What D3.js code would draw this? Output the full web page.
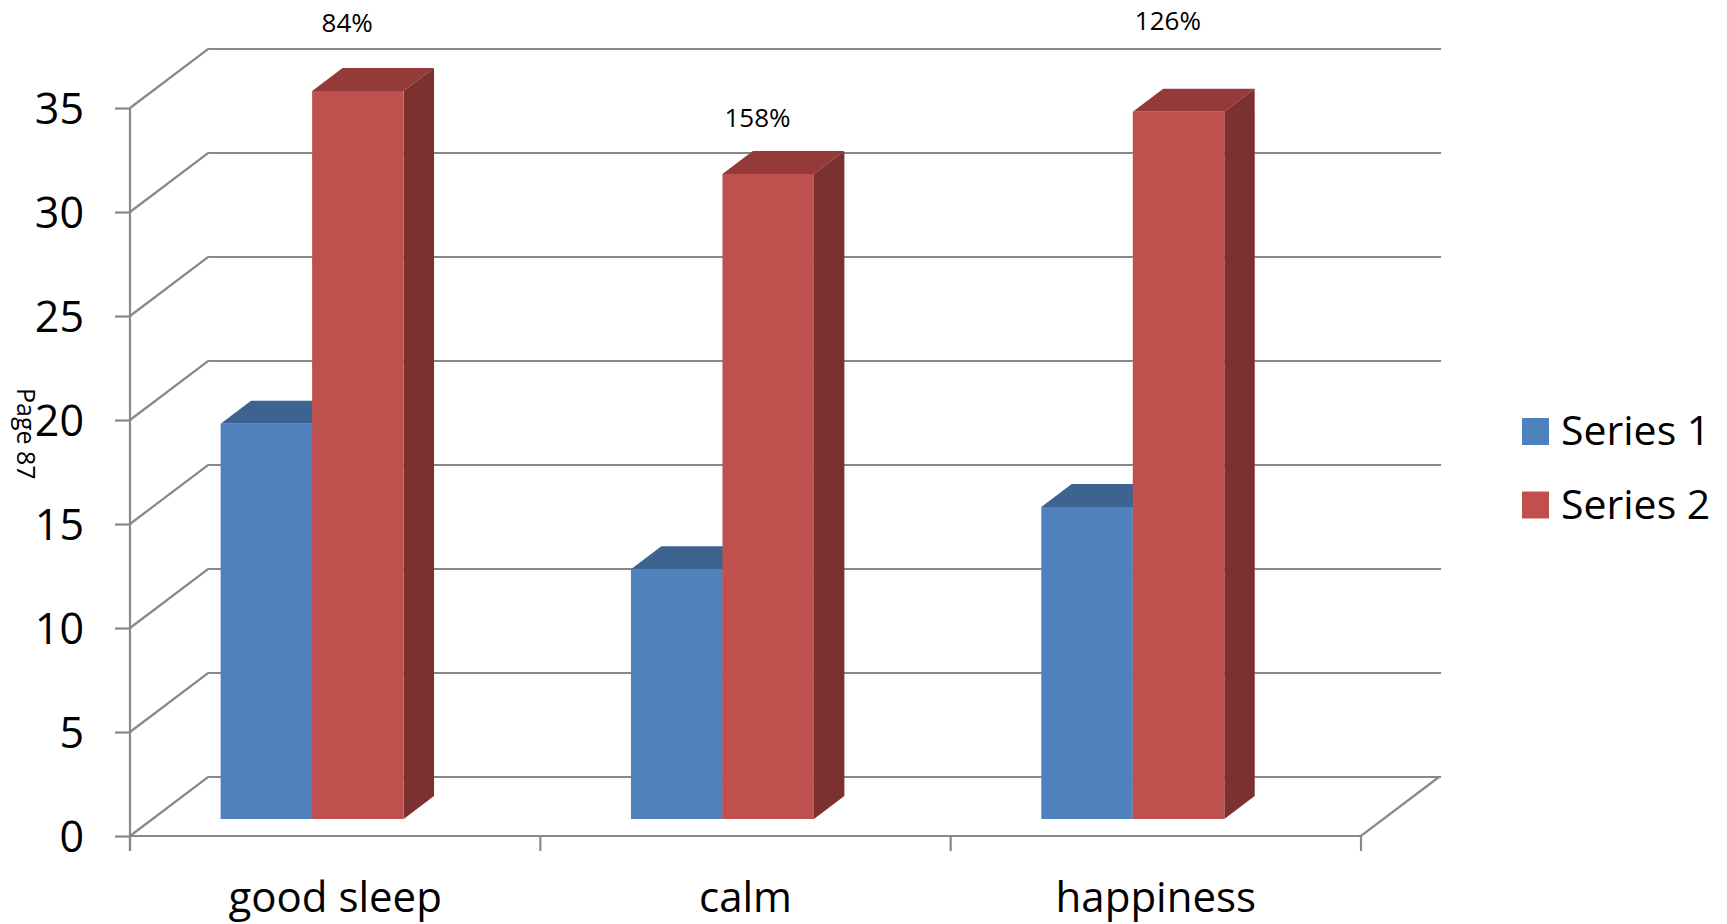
<!DOCTYPE html>
<html>
<head>
<meta charset="utf-8">
<script src="https://cdn.jsdelivr.net/npm/d3@7"></script>
<style>
	html, body { margin: 0; padding: 0; background: #fff; }
	svg { display: block; font-family: "Open Sans", "Noto Sans", sans-serif; }
</style>
</head>
<body>
<svg width="1727" height="924"></svg>
<script>
(()=>{
	//data
	let categories = ["good sleep", "calm", "happiness"];
	let seriesNames = ["Series 1", "Series 2"];
	let series1 = [19, 12, 15];
	let series2 = [35, 31, 34];
	let pctLabels = ["84%", "158%", "126%"];
	let pctLabelAt = [39.1, 34.5, 39.2]; //label height, in value units
	let yTicks = [0, 5, 10, 15, 20, 25, 30, 35];

	let colors = {
		"Series 1": {front: "#4f81bd", top: "#3d6391", side: "#375d8a"},
		"Series 2": {front: "#c0504d", top: "#943b39", side: "#7b3130"}
	};
	let gridColor = "#888888";

	let svg = d3.select("svg");

	//front plane scales
	let y = d3.scaleLinear().domain([0, 35]).range([836, 108]);
	let x = d3.scaleBand().domain(categories).range([130, 1361]);
	let xs = d3.scaleBand().domain(seriesNames).range([68, 251]);

	//oblique depth
	let DX = 78, DY = -59;
	let f0 = 0.29, f1 = 0.68; //bar front / back depth
	let P = (px, v, f) => [px + f*DX, y(v) + f*DY];

	let grid = svg.append("g")
		.attr("stroke", gridColor)
		.attr("stroke-width", 2.2)
		.attr("fill", "none");

	//walls: side diagonal + back line per tick
	yTicks.forEach(t => {
		let a = P(130, t, 0), b = P(130, t, 1), c = P(1361, t, 1);
		grid.append("path")
			.attr("d", d3.line()([a, b, [c[0] + 2, c[1]]]));
	});
	//floor
	grid.append("path")
		.attr("d", d3.line()([P(130, 0, 0), P(1361, 0, 0), P(1361, 0, 1)]));
	//vertical axis line
	grid.append("line")
		.attr("x1", 130).attr("x2", 130)
		.attr("y1", y(35)).attr("y2", y(0) + 15);
	//category ticks
	let bounds = categories.map(c => x(c)).concat([x.range()[1]]);
	bounds.forEach(b => {
		grid.append("line")
			.attr("x1", b).attr("x2", b)
			.attr("y1", y(0)).attr("y2", y(0) + 15);
	});

	//y axis labels + ticks
	let yAxis = d3.axisLeft(y)
		.tickValues(yTicks)
		.tickSize(15)
		.tickSizeOuter(0);
	let ga = svg.append("g")
		.attr("transform", "translate(130,0)")
		.call(yAxis);
	ga.select(".domain").remove();
	ga.selectAll(".tick line").attr("stroke", gridColor).attr("stroke-width", 2.2);
	ga.selectAll(".tick text")
		.attr("font-family", "'Open Sans', sans-serif")
		.attr("font-size", 43)
		.attr("fill", "#000")
		.attr("x", -46)
		.attr("dy", "0.37em");

	//bars
	let bars = svg.append("g");
	categories.forEach((c, i) => {
		let vals = [series1[i], series2[i]];
		seriesNames.forEach((s, j) => {
			let v = vals[j];
			let xa = x(c) + xs(s), xb = xa + xs.bandwidth();
			let col = colors[s];
			let line = d3.line();
			bars.append("path")
				.attr("d", line([P(xa, v, f0), P(xb, v, f0), P(xb, v, f1), P(xa, v, f1)]) + "Z")
				.attr("fill", col.top);
			bars.append("path")
				.attr("d", line([P(xb, 0, f0), P(xb, v, f0), P(xb, v, f1), P(xb, 0, f1)]) + "Z")
				.attr("fill", col.side);
			bars.append("path")
				.attr("d", line([P(xa, 0, f0), P(xb, 0, f0), P(xb, v, f0), P(xa, v, f0)]) + "Z")
				.attr("fill", col.front);
		});
	});

	//percent labels
	svg.append("g").selectAll("text")
		.data(categories)
		.join("text")
		.attr("x", c => x(c) + x.bandwidth()/2 + 12)
		.attr("y", (c, i) => y(pctLabelAt[i]) + 9)
		.attr("text-anchor", "middle")
		.attr("font-size", 26)
		.attr("fill", "#000")
		.text((c, i) => pctLabels[i]);

	//category labels
	svg.append("g").selectAll("text")
		.data(categories)
		.join("text")
		.attr("x", c => x(c) + x.bandwidth()/2)
		.attr("y", 912)
		.attr("text-anchor", "middle")
		.attr("font-size", 42)
		.attr("fill", "#000")
		.text(c => c);

	//legend
	let lg = svg.append("g").attr("transform", "translate(1522,418)");
	seriesNames.forEach((s, j) => {
		let row = lg.append("g").attr("transform", "translate(0," + (j*73.5) + ")");
		row.append("rect")
			.attr("width", 27).attr("height", 27)
			.attr("fill", colors[s].front);
		row.append("text")
			.attr("x", 39).attr("y", 27)
			.attr("font-size", 41)
			.attr("fill", "#000")
			.text(s);
	});

	//page note
	svg.append("text")
		.attr("transform", "translate(17,388) rotate(90)")
		.attr("font-size", 25)
		.attr("fill", "#000")
		.text("Page 87");
})();
</script>
</body>
</html>
